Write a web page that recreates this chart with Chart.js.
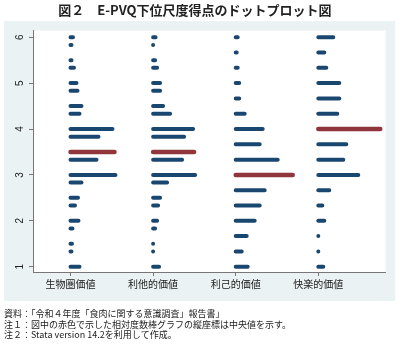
<!DOCTYPE html>
<html lang="ja">
<head>
<meta charset="utf-8">
<script src="https://cdn.jsdelivr.net/npm/chart.js@4/dist/chart.umd.min.js"></script>
<style>
  html, body { margin: 0; padding: 0; background: #fff; }
</style>
</head>
<body>
<canvas id="chart" width="400" height="349"></canvas>
<script>
// categories on the x axis
const categories = ['生物圏価値', '利他的価値', '利己的価値', '快楽的価値'];

// score levels where the dot rows sit
const levelsFine = [1, 1.333, 1.5, 1.833, 2, 2.333, 2.5, 2.833, 3, 3.333, 3.5,
  3.833, 4, 4.333, 4.5, 4.833, 5, 5.333, 5.5, 5.833, 6];
const levelsThird = [1, 1.333, 1.667, 2, 2.333, 2.667, 3, 3.333, 3.667, 4,
  4.333, 4.667, 5, 5.333, 5.667, 6];

// relative frequency of each row (length of the dot stack)
const freqBiospheric = [9, 1, 1.5, 2, 8, 4.5, 7.5, 11, 45, 26, 44, 28, 42, 9, 11, 7, 6, 3.5, 1, 1, 2.5];
const freqAltruistic = [6, 0.5, 0.5, 2, 4, 5, 7, 14, 42, 29, 41, 31, 40, 17, 10, 7, 7, 4, 2, 0.5, 2.5];
const freqEgoistic = [12, 6, 11, 19, 24, 29, 57, 42, 24, 27, 9, 3.5, 3.5, 2, 1, 2];
const freqHedonic = [5, 0.5, 0.5, 6, 4, 11, 40, 25, 28, 62, 19, 21, 21, 8, 6, 15];

const medians = [3.5, 3.5, 3, 4];
const yTicks = [1, 2, 3, 4, 5, 6];

const title = '図２　E-PVQ下位尺度得点のドットプロット図';
const notes = [
  '資料：「令和４年度「食肉に関する意識調査」報告書」',
  '注１：図中の赤色で示した相対度数棒グラフの縦座標は中央値を示す。',
  '注２：Stata version 14.2を利用して作成。',
];

const groups = [
  {levels: levelsFine, freq: freqBiospheric},
  {levels: levelsFine, freq: freqAltruistic},
  {levels: levelsThird, freq: freqEgoistic},
  {levels: levelsThird, freq: freqHedonic},
];
const freqScale = 1 / 82.6; // frequency units -> category widths

// each row is a short line from the category position to the right, rows split by null
const buildRows = (medianOnly) => {
  const pts = [];
  groups.forEach((g, i) => {
    const x0 = i + 1;
    g.levels.forEach((lv, j) => {
      const isMedian = Math.abs(lv - medians[i]) < 0.01;
      if (isMedian !== medianOnly) return;
      pts.push({x: x0, y: lv}, {x: x0 + g.freq[j] * freqScale, y: lv}, {x: x0, y: null});
    });
  });
  return pts;
};

const panelBg = {
  id: 'panelBg',
  beforeDraw(chart) {
    const {ctx, chartArea: a} = chart;
    ctx.save();
    ctx.fillStyle = '#fff';
    ctx.fillRect(0, 0, chart.width, chart.height);
    ctx.fillStyle = '#eaf2f3';
    ctx.fillRect(a.left - 29, a.top - 9.5, a.right - a.left + 38.5, a.bottom - a.top + 38.5);
    ctx.fillStyle = '#fff';
    ctx.fillRect(a.left, a.top, a.right - a.left, a.bottom - a.top);
    ctx.restore();
  },
};

const cjk = '"Noto Sans CJK JP", "Noto Sans", sans-serif';

new Chart(document.getElementById('chart'), {
  type: 'scatter',
  data: {
    datasets: [
      {
        data: buildRows(false),
        showLine: true,
        borderColor: '#1a476f',
        borderWidth: 4,
        borderCapStyle: 'round',
        pointRadius: 0,
        spanGaps: false,
      },
      {
        data: buildRows(true),
        showLine: true,
        borderColor: '#90353b',
        borderWidth: 4.5,
        borderCapStyle: 'round',
        pointRadius: 0,
        spanGaps: false,
      },
    ],
  },
  options: {
    responsive: false,
    animation: false,
    layout: {padding: {left: 4, right: 14.3, top: 0, bottom: 0}},
    plugins: {
      legend: {display: false},
      tooltip: {enabled: false},
      title: {
        display: true,
        text: title,
        color: '#222',
        font: {family: cjk, size: 13, weight: 'bold', lineHeight: 1.2},
        padding: {top: 2, bottom: 13},
      },
      subtitle: {
        display: true,
        position: 'bottom',
        align: 'start',
        text: notes,
        color: '#222',
        font: {family: cjk, size: 9, lineHeight: 1.17},
        padding: {top: 5, bottom: 9},
      },
    },
    scales: {
      x: {
        type: 'linear',
        min: 0.546,
        max: 4.816,
        afterBuildTicks: (axis) => {
          axis.ticks = categories.map((c, i) => ({value: i + 1}));
        },
        afterFit: (axis) => {
          axis.height = 31.4;
        },
        ticks: {
          callback: (v) => categories[v - 1],
          color: '#222',
          font: {family: cjk, size: 10},
          padding: 2,
          maxRotation: 0,
          autoSkip: false,
        },
        grid: {display: true, drawOnChartArea: false, tickLength: 4, tickColor: '#777'},
        border: {display: true, color: '#777', width: 1},
      },
      y: {
        type: 'linear',
        min: 0.885,
        max: 6.144,
        afterBuildTicks: (axis) => {
          axis.ticks = yTicks.map((v) => ({value: v}));
        },
        afterFit: (axis) => {
          axis.width = 29;
        },
        ticks: {
          color: '#222',
          font: {family: '"Liberation Sans", Arial, sans-serif', size: 10},
          minRotation: 90,
          maxRotation: 90,
          crossAlign: 'center',
          padding: 6,
        },
        grid: {display: true, drawOnChartArea: false, tickLength: 4, tickColor: '#777'},
        border: {display: true, color: '#777', width: 1},
      },
    },
  },
  plugins: [panelBg],
});
</script>
</body>
</html>
